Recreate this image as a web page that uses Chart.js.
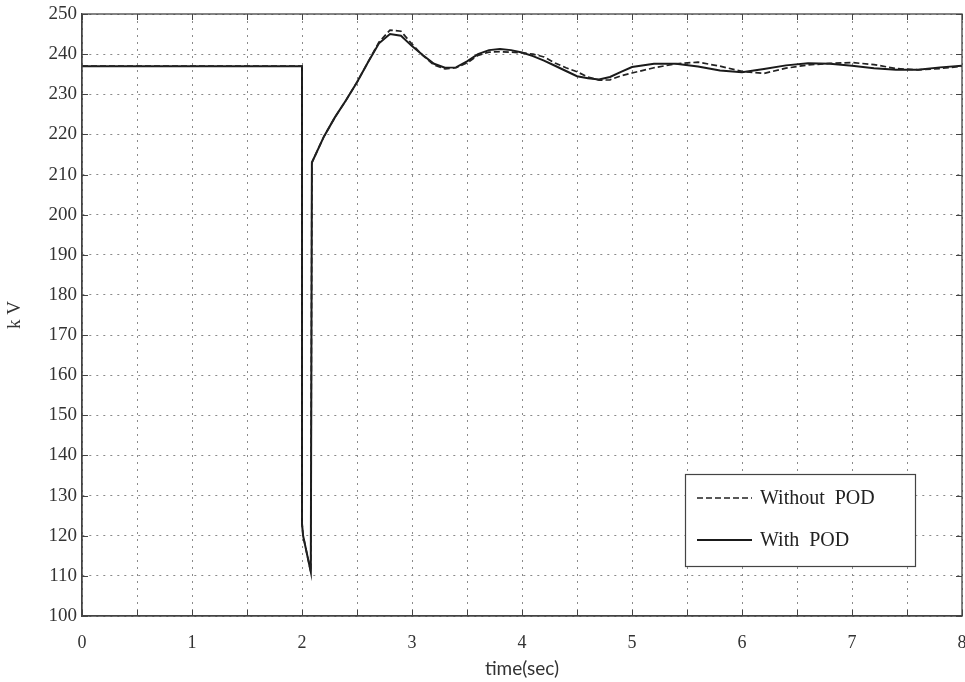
<!DOCTYPE html>
<html>
<head>
<meta charset="utf-8">
<script src="https://cdn.jsdelivr.net/npm/chart.js@4.4.1/dist/chart.umd.min.js"></script>
<style>
  html, body { margin: 0; padding: 0; background: #fff; }
  #wrap { width: 965px; height: 682px; }
</style>
</head>
<body>
<div id="wrap"><canvas id="voltChart"></canvas></div>
<script>
// time (sec), shared by both curves
const times = [0, 2.0, 2.0, 2.01, 2.08, 2.09, 2.2, 2.3, 2.4, 2.5, 2.6, 2.7, 2.8, 2.9, 3.0, 3.1, 3.2, 3.3, 3.4, 3.5,
  3.6, 3.7, 3.8, 3.9, 4.0, 4.1, 4.2, 4.3, 4.4, 4.5, 4.6, 4.7, 4.8, 4.9, 5.0, 5.2, 5.4, 5.6, 5.8, 6.0,
  6.2, 6.4, 6.6, 6.8, 7.0, 7.2, 7.4, 7.6, 7.8, 8.0];

const withoutPod = [237, 237, 123, 120, 111, 213, 219.5, 224.3, 228.5, 233, 238, 243, 246, 245.7, 242.5, 239.6, 237.3, 236.3, 236.6, 237.8,
  239.7, 240.5, 240.6, 240.5, 240.3, 240, 239.3, 237.8, 236.6, 235.6, 234.3, 233.5, 233.6, 234.6, 235.3, 236.6, 237.6, 238, 237, 235.7,
  235.2, 236.5, 237.3, 237.7, 237.9, 237.4, 236.4, 236.1, 236.4, 237];

const withPod = [237, 237, 123, 120, 111, 213, 219.5, 224.3, 228.5, 233, 238, 242.7, 245, 244.6, 242, 239.7, 237.6, 236.6, 236.7, 238.2,
  240, 241, 241.3, 241, 240.4, 239.5, 238.4, 237.1, 235.8, 234.5, 234, 233.7, 234.3, 235.6, 236.8, 237.6, 237.6, 236.9, 235.9, 235.5,
  236.3, 237.2, 237.7, 237.6, 237.1, 236.5, 236.1, 236.1, 236.7, 237.1];

const seriesNames = ['Without  POD', 'With  POD'];

const toPoints = (vals) => times.map((t, i) => ({ x: t, y: vals[i] }));

// solid frame + small inward tick marks on all four sides
const innerTicks = {
  id: 'innerTicks',
  afterDatasetsDraw(chart) {
    const { ctx, chartArea: a, scales } = chart;
    ctx.save();
    ctx.strokeStyle = '#444';
    ctx.lineWidth = 1.3;
    ctx.strokeRect(a.left, a.top, a.right - a.left, a.bottom - a.top);
    ctx.lineWidth = 1;
    ctx.beginPath();
    scales.x.ticks.forEach(tk => {
      const px = Math.round(scales.x.getPixelForValue(tk.value)) + 0.5;
      ctx.moveTo(px, a.top); ctx.lineTo(px, a.top + 6);
      ctx.moveTo(px, a.bottom); ctx.lineTo(px, a.bottom - 6);
    });
    scales.y.ticks.forEach(tk => {
      const py = Math.round(scales.y.getPixelForValue(tk.value)) + 0.5;
      ctx.moveTo(a.left, py); ctx.lineTo(a.left + 6, py);
      ctx.moveTo(a.right, py); ctx.lineTo(a.right - 6, py);
    });
    ctx.stroke();
    ctx.restore();
  }
};

// legend box inside the plot, lower right
const boxLegend = {
  id: 'boxLegend',
  afterDraw(chart) {
    const { ctx } = chart;
    const x0 = 685, y0 = 474, w = 230, h = 92;
    ctx.save();
    ctx.fillStyle = '#fff';
    ctx.fillRect(x0, y0, w, h);
    ctx.strokeStyle = '#444';
    ctx.lineWidth = 1.2;
    ctx.strokeRect(x0 + 0.5, y0 + 0.5, w, h);
    chart.data.datasets.forEach((ds, i) => {
      const ly = y0 + 24 + i * 42;
      ctx.beginPath();
      ctx.setLineDash(ds.borderDash || []);
      ctx.strokeStyle = ds.borderColor;
      ctx.lineWidth = ds.borderWidth;
      ctx.moveTo(x0 + 12, ly);
      ctx.lineTo(x0 + 67, ly);
      ctx.stroke();
      ctx.setLineDash([]);
      ctx.fillStyle = '#222';
      ctx.font = '20px "Liberation Serif"';
      ctx.textBaseline = 'middle';
      ctx.fillText(ds.label, x0 + 75, ly + 1);
    });
    ctx.restore();
  }
};

const ctx = document.getElementById('voltChart').getContext('2d');
new Chart(ctx, {
  type: 'line',
  data: {
    datasets: [
      {
        label: seriesNames[0],
        data: toPoints(withoutPod),
        borderColor: '#222',
        borderWidth: 1.7,
        borderDash: [6, 3],
        pointRadius: 0,
        tension: 0,
        fill: false
      },
      {
        label: seriesNames[1],
        data: toPoints(withPod),
        borderColor: '#1a1a1a',
        borderWidth: 2,
        pointRadius: 0,
        tension: 0,
        fill: false
      }
    ]
  },
  options: {
    responsive: true,
    maintainAspectRatio: false,
    animation: false,
    layout: { padding: { left: 0, right: 3, top: 14, bottom: 0 } },
    plugins: {
      legend: { display: false },
      tooltip: { enabled: false }
    },
    scales: {
      x: {
        type: 'linear',
        min: 0,
        max: 8,
        border: { display: true, color: '#444', width: 1.3, dash: [2, 5] },
        grid: { color: '#8a8a8a', drawTicks: false, lineWidth: 1 },
        ticks: {
          stepSize: 0.5,
          padding: 16,
          color: '#333',
          font: { family: 'Liberation Serif', size: 18 },
          callback: (v) => Number.isInteger(v) ? String(v) : ''
        },
        title: {
          display: true,
          text: 'time(sec)',
          color: '#333',
          font: { family: 'Lato', size: 19 },
          padding: { top: 0, bottom: 2 }
        },
        afterFit: (s) => { s.height = 66; s.paddingLeft = 0; s.paddingRight = 0; }
      },
      y: {
        min: 100,
        max: 250,
        border: { display: true, color: '#444', width: 1.3, dash: [2, 5] },
        grid: { color: '#8a8a8a', drawTicks: false, lineWidth: 1 },
        ticks: {
          stepSize: 10,
          padding: 5,
          color: '#333',
          font: { family: 'Liberation Serif', size: 19 }
        },
        title: {
          display: true,
          text: 'k V',
          color: '#333',
          font: { family: 'Liberation Serif', size: 19 },
          padding: { top: 4, bottom: 0 }
        },
        afterFit: (s) => { s.width = 82; s.paddingTop = 0; s.paddingBottom = 0; }
      }
    }
  },
  plugins: [innerTicks, boxLegend]
});
</script>
</body>
</html>
